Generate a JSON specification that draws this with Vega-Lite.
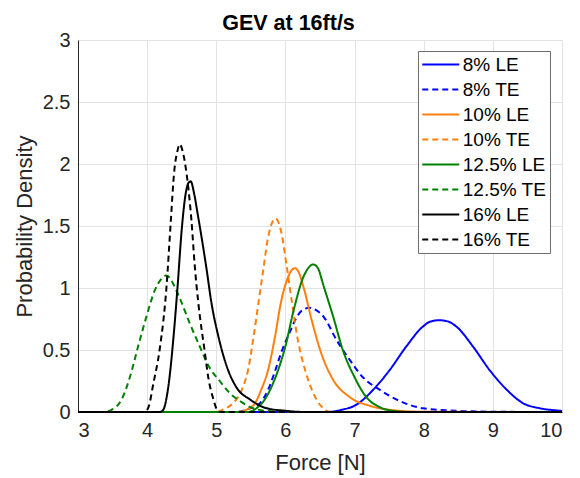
{
  "$schema": "https://vega.github.io/schema/vega-lite/v6.json",
  "width": 484,
  "height": 372,
  "autosize": {"type": "none"},
  "padding": {"left": 78, "top": 40, "right": 18, "bottom": 66},
  "background": "white",
  "title": {"text": "GEV at 16ft/s", "font": "Liberation Sans", "fontSize": 21.5, "fontWeight": "bold", "color": "#000000", "anchor": "start", "dx": 209, "offset": -4},
  "config": {
    "view": {"stroke": "#dfdfdf"},
    "axis": {"labelFont": "Liberation Sans", "labelFontSize": 20, "labelColor": "#262626", "titleFont": "Liberation Sans", "titleFontSize": 22, "titleColor": "#262626", "titleFontWeight": "normal", "gridColor": "#e3e3e3", "domainColor": "#262626", "ticks": false, "labelPadding": 8},
    "legend": {"orient": "none", "legendX": 340, "legendY": 11, "fillColor": "white", "strokeColor": "#6e6e6e", "padding": 3, "labelFont": "Liberation Sans", "labelFontSize": 19, "labelColor": "#000000", "symbolType": "M-2,0H2", "symbolSize": 342, "symbolStrokeWidth": 2, "symbolOffset": 9.25, "labelOffset": 11.5, "rowPadding": 4}
  },
  "data": {"values": [
    {"series": "8% LE", "force": 3, "density": 0},
    {"series": "8% LE", "force": 6.6, "density": 0},
    {"series": "8% LE", "force": 6.79, "density": 0.015},
    {"series": "8% LE", "force": 7.03, "density": 0.06},
    {"series": "8% LE", "force": 7.27, "density": 0.18},
    {"series": "8% LE", "force": 7.51, "density": 0.34},
    {"series": "8% LE", "force": 7.75, "density": 0.53},
    {"series": "8% LE", "force": 7.99, "density": 0.69},
    {"series": "8% LE", "force": 8.1, "density": 0.73},
    {"series": "8% LE", "force": 8.22, "density": 0.74},
    {"series": "8% LE", "force": 8.35, "density": 0.73},
    {"series": "8% LE", "force": 8.47, "density": 0.69},
    {"series": "8% LE", "force": 8.71, "density": 0.53},
    {"series": "8% LE", "force": 8.95, "density": 0.34},
    {"series": "8% LE", "force": 9.2, "density": 0.18},
    {"series": "8% LE", "force": 9.44, "density": 0.07},
    {"series": "8% LE", "force": 9.68, "density": 0.03},
    {"series": "8% LE", "force": 9.97, "density": 0.01},
    {"series": "8% LE", "force": 10, "density": 0.008},

    {"series": "8% TE", "force": 3, "density": 0},
    {"series": "8% TE", "force": 5.3, "density": 0},
    {"series": "8% TE", "force": 5.44, "density": 0.02},
    {"series": "8% TE", "force": 5.63, "density": 0.07},
    {"series": "8% TE", "force": 5.75, "density": 0.18},
    {"series": "8% TE", "force": 5.85, "density": 0.33},
    {"series": "8% TE", "force": 5.94, "density": 0.48},
    {"series": "8% TE", "force": 6.06, "density": 0.64},
    {"series": "8% TE", "force": 6.18, "density": 0.78},
    {"series": "8% TE", "force": 6.27, "density": 0.83},
    {"series": "8% TE", "force": 6.35, "density": 0.84},
    {"series": "8% TE", "force": 6.45, "density": 0.82},
    {"series": "8% TE", "force": 6.55, "density": 0.77},
    {"series": "8% TE", "force": 6.74, "density": 0.58},
    {"series": "8% TE", "force": 6.93, "density": 0.42},
    {"series": "8% TE", "force": 7.12, "density": 0.28},
    {"series": "8% TE", "force": 7.36, "density": 0.18},
    {"series": "8% TE", "force": 7.61, "density": 0.1},
    {"series": "8% TE", "force": 7.99, "density": 0.03},
    {"series": "8% TE", "force": 8.47, "density": 0.01},
    {"series": "8% TE", "force": 9, "density": 0.002},
    {"series": "8% TE", "force": 10, "density": 0},

    {"series": "10% LE", "force": 3, "density": 0},
    {"series": "10% LE", "force": 5.3, "density": 0},
    {"series": "10% LE", "force": 5.44, "density": 0.02},
    {"series": "10% LE", "force": 5.56, "density": 0.07},
    {"series": "10% LE", "force": 5.65, "density": 0.18},
    {"series": "10% LE", "force": 5.75, "density": 0.34},
    {"series": "10% LE", "force": 5.85, "density": 0.61},
    {"series": "10% LE", "force": 5.93, "density": 0.87},
    {"series": "10% LE", "force": 6.04, "density": 1.09},
    {"series": "10% LE", "force": 6.1, "density": 1.15},
    {"series": "10% LE", "force": 6.14, "density": 1.16},
    {"series": "10% LE", "force": 6.19, "density": 1.13},
    {"series": "10% LE", "force": 6.26, "density": 1.01},
    {"series": "10% LE", "force": 6.38, "density": 0.74},
    {"series": "10% LE", "force": 6.52, "density": 0.47},
    {"series": "10% LE", "force": 6.69, "density": 0.26},
    {"series": "10% LE", "force": 6.93, "density": 0.12},
    {"series": "10% LE", "force": 7.22, "density": 0.05},
    {"series": "10% LE", "force": 7.55, "density": 0.015},
    {"series": "10% LE", "force": 8, "density": 0.002},
    {"series": "10% LE", "force": 10, "density": 0},

    {"series": "10% TE", "force": 3, "density": 0},
    {"series": "10% TE", "force": 5.0, "density": 0},
    {"series": "10% TE", "force": 5.1, "density": 0.02},
    {"series": "10% TE", "force": 5.24, "density": 0.07},
    {"series": "10% TE", "force": 5.37, "density": 0.18},
    {"series": "10% TE", "force": 5.46, "density": 0.34},
    {"series": "10% TE", "force": 5.54, "density": 0.61},
    {"series": "10% TE", "force": 5.61, "density": 0.88},
    {"series": "10% TE", "force": 5.68, "density": 1.15},
    {"series": "10% TE", "force": 5.75, "density": 1.41},
    {"series": "10% TE", "force": 5.81, "density": 1.53},
    {"series": "10% TE", "force": 5.86, "density": 1.56},
    {"series": "10% TE", "force": 5.9, "density": 1.53},
    {"series": "10% TE", "force": 5.94, "density": 1.45},
    {"series": "10% TE", "force": 6.02, "density": 1.17},
    {"series": "10% TE", "force": 6.09, "density": 0.9},
    {"series": "10% TE", "force": 6.18, "density": 0.58},
    {"series": "10% TE", "force": 6.3, "density": 0.31},
    {"series": "10% TE", "force": 6.45, "density": 0.1},
    {"series": "10% TE", "force": 6.57, "density": 0.02},
    {"series": "10% TE", "force": 6.65, "density": 0},
    {"series": "10% TE", "force": 10, "density": 0},

    {"series": "12.5% LE", "force": 3, "density": 0},
    {"series": "12.5% LE", "force": 5.45, "density": 0},
    {"series": "12.5% LE", "force": 5.58, "density": 0.03},
    {"series": "12.5% LE", "force": 5.7, "density": 0.1},
    {"series": "12.5% LE", "force": 5.82, "density": 0.23},
    {"series": "12.5% LE", "force": 5.92, "density": 0.38},
    {"series": "12.5% LE", "force": 6.0, "density": 0.53},
    {"series": "12.5% LE", "force": 6.11, "density": 0.8},
    {"series": "12.5% LE", "force": 6.26, "density": 1.09},
    {"series": "12.5% LE", "force": 6.33, "density": 1.16},
    {"series": "12.5% LE", "force": 6.4, "density": 1.19},
    {"series": "12.5% LE", "force": 6.47, "density": 1.16},
    {"series": "12.5% LE", "force": 6.55, "density": 1.02},
    {"series": "12.5% LE", "force": 6.69, "density": 0.77},
    {"series": "12.5% LE", "force": 6.83, "density": 0.5},
    {"series": "12.5% LE", "force": 7.0, "density": 0.28},
    {"series": "12.5% LE", "force": 7.17, "density": 0.12},
    {"series": "12.5% LE", "force": 7.36, "density": 0.04},
    {"series": "12.5% LE", "force": 7.55, "density": 0.01},
    {"series": "12.5% LE", "force": 7.8, "density": 0},
    {"series": "12.5% LE", "force": 10, "density": 0},

    {"series": "12.5% TE", "force": 3, "density": 0},
    {"series": "12.5% TE", "force": 3.35, "density": 0},
    {"series": "12.5% TE", "force": 3.49, "density": 0.02},
    {"series": "12.5% TE", "force": 3.63, "density": 0.1},
    {"series": "12.5% TE", "force": 3.75, "density": 0.28},
    {"series": "12.5% TE", "force": 3.87, "density": 0.53},
    {"series": "12.5% TE", "force": 3.99, "density": 0.77},
    {"series": "12.5% TE", "force": 4.11, "density": 0.98},
    {"series": "12.5% TE", "force": 4.2, "density": 1.07},
    {"series": "12.5% TE", "force": 4.27, "density": 1.1},
    {"series": "12.5% TE", "force": 4.33, "density": 1.08},
    {"series": "12.5% TE", "force": 4.38, "density": 1.03},
    {"series": "12.5% TE", "force": 4.47, "density": 0.92},
    {"series": "12.5% TE", "force": 4.62, "density": 0.71},
    {"series": "12.5% TE", "force": 4.76, "density": 0.53},
    {"series": "12.5% TE", "force": 4.9, "density": 0.36},
    {"series": "12.5% TE", "force": 5.05, "density": 0.25},
    {"series": "12.5% TE", "force": 5.2, "density": 0.15},
    {"series": "12.5% TE", "force": 5.34, "density": 0.09},
    {"series": "12.5% TE", "force": 5.49, "density": 0.04},
    {"series": "12.5% TE", "force": 5.7, "density": 0.01},
    {"series": "12.5% TE", "force": 6.0, "density": 0},
    {"series": "12.5% TE", "force": 10, "density": 0},

    {"series": "16% LE", "force": 3, "density": 0},
    {"series": "16% LE", "force": 4.18, "density": 0},
    {"series": "16% LE", "force": 4.23, "density": 0.015},
    {"series": "16% LE", "force": 4.3, "density": 0.18},
    {"series": "16% LE", "force": 4.39, "density": 0.66},
    {"series": "16% LE", "force": 4.44, "density": 1.01},
    {"series": "16% LE", "force": 4.5, "density": 1.47},
    {"series": "16% LE", "force": 4.56, "density": 1.77},
    {"series": "16% LE", "force": 4.6, "density": 1.85},
    {"series": "16% LE", "force": 4.63, "density": 1.86},
    {"series": "16% LE", "force": 4.68, "density": 1.76},
    {"series": "16% LE", "force": 4.73, "density": 1.6},
    {"series": "16% LE", "force": 4.79, "density": 1.4},
    {"series": "16% LE", "force": 4.86, "density": 1.15},
    {"series": "16% LE", "force": 4.93, "density": 0.88},
    {"series": "16% LE", "force": 5.03, "density": 0.61},
    {"series": "16% LE", "force": 5.15, "density": 0.37},
    {"series": "16% LE", "force": 5.29, "density": 0.2},
    {"series": "16% LE", "force": 5.49, "density": 0.1},
    {"series": "16% LE", "force": 5.73, "density": 0.03},
    {"series": "16% LE", "force": 6.0, "density": 0.01},
    {"series": "16% LE", "force": 6.3, "density": 0},
    {"series": "16% LE", "force": 10, "density": 0},

    {"series": "16% TE", "force": 3, "density": 0},
    {"series": "16% TE", "force": 3.96, "density": 0},
    {"series": "16% TE", "force": 4.02, "density": 0.04},
    {"series": "16% TE", "force": 4.09, "density": 0.23},
    {"series": "16% TE", "force": 4.18, "density": 0.5},
    {"series": "16% TE", "force": 4.28, "density": 1.01},
    {"series": "16% TE", "force": 4.34, "density": 1.52},
    {"series": "16% TE", "force": 4.39, "density": 1.93},
    {"series": "16% TE", "force": 4.44, "density": 2.11},
    {"series": "16% TE", "force": 4.47, "density": 2.16},
    {"series": "16% TE", "force": 4.51, "density": 2.11},
    {"series": "16% TE", "force": 4.58, "density": 1.88},
    {"series": "16% TE", "force": 4.64, "density": 1.55},
    {"series": "16% TE", "force": 4.69, "density": 1.17},
    {"series": "16% TE", "force": 4.74, "density": 0.88},
    {"series": "16% TE", "force": 4.83, "density": 0.5},
    {"series": "16% TE", "force": 4.89, "density": 0.26},
    {"series": "16% TE", "force": 4.96, "density": 0.1},
    {"series": "16% TE", "force": 5.0, "density": 0.03},
    {"series": "16% TE", "force": 5.06, "density": 0},
    {"series": "16% TE", "force": 10, "density": 0}
  ]},
  "mark": {"type": "line", "interpolate": "monotone", "strokeWidth": 2},
  "encoding": {
    "x": {"field": "force", "type": "quantitative", "scale": {"domain": [3, 10], "nice": false, "zero": false}, "axis": {"values": [3, 4, 5, 6, 7, 8, 9, 10], "format": "d", "title": "Force [N]", "titlePadding": 12}},
    "y": {"field": "density", "type": "quantitative", "scale": {"domain": [0, 3], "nice": false}, "axis": {"values": [0, 0.5, 1, 1.5, 2, 2.5, 3], "format": "~g", "title": "Probability Density", "titlePadding": 6}},
    "color": {"field": "series", "type": "nominal", "scale": {"domain": ["8% LE", "8% TE", "10% LE", "10% TE", "12.5% LE", "12.5% TE", "16% LE", "16% TE"], "range": ["#0000ff", "#0000ff", "#ff7f0e", "#ff7f0e", "#008000", "#008000", "#000000", "#000000"]}, "legend": {"title": null}},
    "strokeDash": {"field": "series", "type": "nominal", "scale": {"domain": ["8% LE", "8% TE", "10% LE", "10% TE", "12.5% LE", "12.5% TE", "16% LE", "16% TE"], "range": [[1, 0], [6, 4], [1, 0], [6, 4], [1, 0], [6, 4], [1, 0], [6, 4]]}, "legend": {"title": null}}
  }
}
